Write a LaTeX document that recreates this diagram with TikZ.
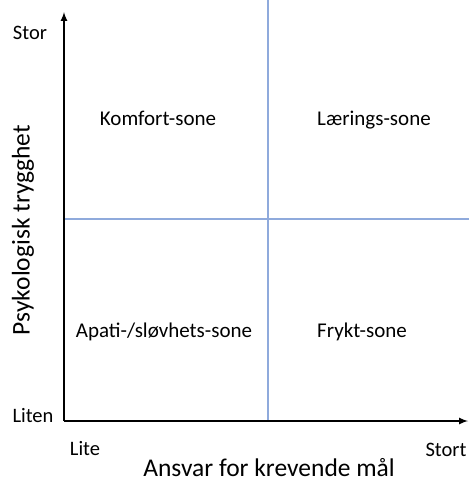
\documentclass[tikz,border=0pt]{standalone}
\usepackage{fontspec}
\setmainfont{Carlito}
\begin{document}
\begin{tikzpicture}[x=1pt,y=-1pt]
   \tikzstyle{every node}=[inner sep=0pt,anchor=base]
   \tikzstyle{zone}=[font=\fontsize{21}{24}\selectfont]
   \tikzstyle{tick}=[font=\fontsize{20.5}{24}\selectfont]
   \tikzstyle{axistitle}=[font=\fontsize{25.5}{29}\selectfont]
   \definecolor{gridblue}{RGB}{143,170,220}

   \useasboundingbox (0,0) rectangle (469,482) ;

   \coordinate (origo) at (64,421) ;
   \coordinate (ytop) at (64,12) ;
   \coordinate (xend) at (468,421) ;
   \coordinate (vtop) at (268,0) ;
   \coordinate (vbot) at (268,421) ;
   \coordinate (hleft) at (64,219) ;
   \coordinate (hright) at (469,219) ;

   \draw [gridblue,line width=2pt] (vtop) -- (vbot) ;
   \draw [gridblue,line width=2pt] (hleft) -- (hright) ;

   \draw [line width=2pt,-latex] (origo) -- (ytop) ;
   \draw [line width=2pt,-latex] (origo) -- (xend) ;

   \node (stor) [tick] at (30,39) {Stor} ;
   \node (liten) [tick] at (33,422) {Liten} ;
   \node (lite) [tick] at (85,455) {Lite} ;
   \node (stort) [tick] at (446,456) {Stort} ;

   \node (ytitle) [axistitle,rotate=90,anchor=center] at (23,230) {Psykologisk trygghet} ;
   \node (xtitle) [axistitle] at (269,476) {Ansvar for krevende mål} ;

   \node (komfort) [zone] at (158,125) {Komfort-sone} ;
   \node (laering) [zone] at (374,125) {Lærings-sone} ;
   \node (apati) [zone] at (164,337) {Apati-/sløvhets-sone} ;
   \node (frykt) [zone] at (362,337) {Frykt-sone} ;

\end{tikzpicture}
\end{document}
